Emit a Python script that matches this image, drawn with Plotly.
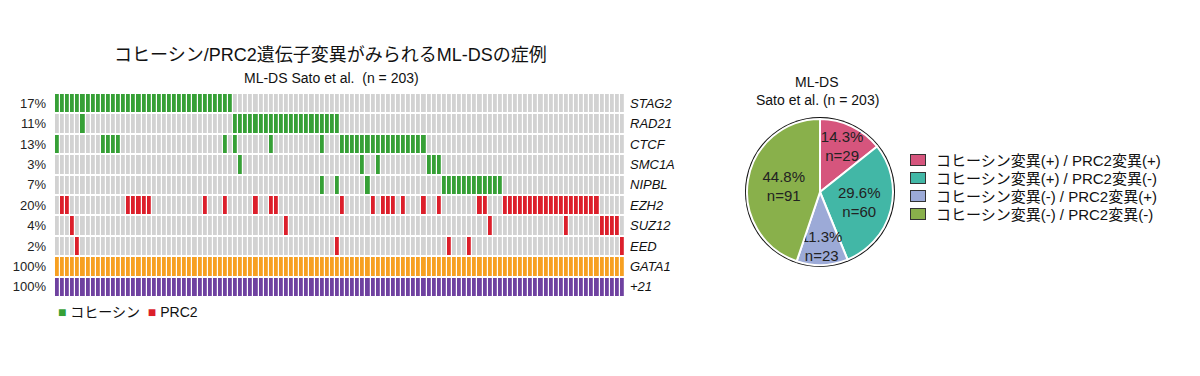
import plotly.graph_objects as go

# ---------------- data ----------------
N_CASES = 112  # columns shown in the oncoprint

genes = ["STAG2", "RAD21", "CTCF", "SMC1A", "NIPBL", "EZH2", "SUZ12", "EED", "GATA1", "+21"]
gene_pct = ["17%", "11%", "13%", "3%", "7%", "20%", "4%", "2%", "100%", "100%"]
# 1 = cohesin, 2 = PRC2, 3 = GATA1, 4 = trisomy 21
gene_class = [1, 1, 1, 1, 1, 2, 2, 2, 3, 4]

stag2_cases = [0, 1, 2, 3, 4, 5, 6, 7, 8, 9, 10, 11, 12, 13, 14, 15, 16, 17, 18, 19, 20,
               21, 22, 23, 24, 25, 26, 27, 28, 29, 30, 31, 32, 33, 34]
rad21_cases = [5, 35, 36, 37, 38, 39, 40, 41, 42, 43, 44, 45, 46, 47, 48, 49, 50, 51, 52,
               53, 54, 55]
ctcf_cases = [0, 9, 10, 11, 12, 33, 35, 42, 52, 56, 57, 58, 59, 60, 61, 62, 63, 64, 65, 66,
              67, 68, 69, 70, 71, 72]
smc1a_cases = [36, 60, 63, 73, 74, 75]
nipbl_cases = [52, 55, 61, 76, 77, 78, 79, 80, 81, 82, 83, 84, 85, 86, 87]
ezh2_cases = [1, 2, 14, 15, 16, 17, 18, 29, 33, 39, 42, 43, 56, 62, 64, 65, 66, 68, 72, 75,
              83, 84, 88, 89, 90, 91, 92, 93, 94, 95, 96, 97, 98, 99, 100, 101, 102, 103,
              104, 105, 106]
suz12_cases = [3, 45, 85, 100, 107, 108, 109, 110]
eed_cases = [4, 55, 77, 81, 111]
gata1_cases = list(range(N_CASES))   # every case carries a GATA1 mutation
tri21_cases = list(range(N_CASES))   # every case has trisomy 21

pie_labels = ["コヒーシン変異(+) / PRC2変異(+)", "コヒーシン変異(+) / PRC2変異(-)",
              "コヒーシン変異(-) / PRC2変異(+)", "コヒーシン変異(-) / PRC2変異(-)"]
pie_values = [29, 60, 23, 91]

# ---------------- styles ----------------
GREY = "#d2d2d2"
GREEN = "#36a036"
RED = "#dc1f2b"
ORANGE = "#f7a021"
PURPLE = "#6f41a0"
pie_colors = ["#d6557d", "#42b7a6", "#9caad7", "#89b04b"]
FONT = "Liberation Sans, Arial, Noto Sans CJK JP, sans-serif"

W, H = 1200, 376
OFF = 8  # default page body margin


def px_x(x):
    return (x - OFF) / W


def px_y(y):
    return 1 - (y - OFF) / H


rows_cases = [stag2_cases, rad21_cases, ctcf_cases, smc1a_cases, nipbl_cases,
              ezh2_cases, suz12_cases, eed_cases, gata1_cases, tri21_cases]
z = []
for cls, cases in zip(gene_class, rows_cases):
    s = set(cases)
    z.append([cls if i in s else 0 for i in range(N_CASES)])

fig = go.Figure()

fig.add_trace(go.Heatmap(
    z=z, x=list(range(N_CASES)), y=list(range(len(genes))),
    zmin=0, zmax=4,
    colorscale=[[0, GREY], [0.25, GREEN], [0.5, RED], [0.75, ORANGE], [1, PURPLE]],
    showscale=False, xgap=1.2, ygap=2, hoverinfo="skip",
))
# invisible trace to carry the right-hand gene-name axis
fig.add_trace(go.Scatter(x=[None], y=[None], yaxis="y2", showlegend=False,
                         hoverinfo="skip", mode="markers"))

# pie: black rim underneath
CX, CY, R = 820, 192, 73
fig.add_trace(go.Pie(
    values=[1], labels=["rim"], marker=dict(colors=["#111111"], line=dict(width=0)),
    domain=dict(x=[px_x(CX - R - 2), px_x(CX + R + 2)], y=[px_y(CY + R + 2), px_y(CY - R - 2)]),
    textinfo="none", showlegend=False, hoverinfo="skip", sort=False,
))
fig.add_trace(go.Pie(
    labels=pie_labels, values=pie_values, sort=False, direction="clockwise", rotation=0,
    marker=dict(colors=pie_colors, line=dict(color="white", width=2)),
    domain=dict(x=[px_x(CX - R), px_x(CX + R)], y=[px_y(CY + R), px_y(CY - R)]),
    texttemplate="%{percent:.1%}<br>n=%{value}", textposition="inside",
    insidetextorientation="horizontal",
    textfont=dict(family=FONT, size=15, color="#222222"),
    hoverinfo="skip", showlegend=False,
))

fig.update_layout(
    width=W, height=H, margin=dict(l=0, r=0, t=0, b=0),
    paper_bgcolor="white", plot_bgcolor="white",
    font=dict(family=FONT, color="#111111"),
    uniformtext=dict(minsize=15, mode="show"),
    showlegend=False,
    xaxis=dict(domain=[px_x(55), px_x(625)], range=[-0.5, N_CASES - 0.5], visible=False),
    yaxis=dict(domain=[px_y(297), px_y(93)], range=[len(genes) - 0.5, -0.5],
               tickvals=list(range(len(genes))), ticktext=gene_pct,
               showgrid=False, zeroline=False, showline=False, ticks="",
               ticklabelstandoff=8, tickfont=dict(size=13, color="#222222")),
    yaxis2=dict(overlaying="y", side="right", anchor="x",
                range=[len(genes) - 0.5, -0.5],
                tickvals=list(range(len(genes))),
                ticktext=["<i>%s</i>" % g for g in genes],
                showgrid=False, zeroline=False, showline=False, ticks="",
                ticklabelstandoff=4, tickfont=dict(size=13, color="#111111")),
)


def note(text, x, y, size, xanchor="center"):
    fig.add_annotation(text=text, x=px_x(x), y=px_y(y), xref="paper", yref="paper",
                       xanchor=xanchor, yanchor="middle", showarrow=False,
                       font=dict(size=size, color="#111111"))


note("コヒーシン/PRC2遺伝子変異がみられるML-DSの症例", 330, 55, 18)
note("ML-DS Sato et al.  (n = 203)", 331, 78, 14)
note("ML-DS", 817, 82, 14)
note("Sato et al. (n = 203)", 817, 100, 14)
note("<span style='color:%s'>■</span> コヒーシン  <span style='color:%s'>■</span> PRC2"
     % (GREEN, RED), 56, 312, 14, xanchor="left")

# pie legend: bordered swatch + label
for i, (lab, col) in enumerate(zip(pie_labels, pie_colors)):
    yy = 160 + 18 * i
    fig.add_annotation(text=" ", x=px_x(918), y=px_y(yy), xref="paper", yref="paper",
                       xanchor="center", yanchor="middle", showarrow=False,
                       width=14, height=10, borderpad=0, bgcolor=col,
                       bordercolor="#333333", borderwidth=1,
                       font=dict(size=8))
    note(lab, 934, yy, 15, xanchor="left")

fig.write_html("out.html")
